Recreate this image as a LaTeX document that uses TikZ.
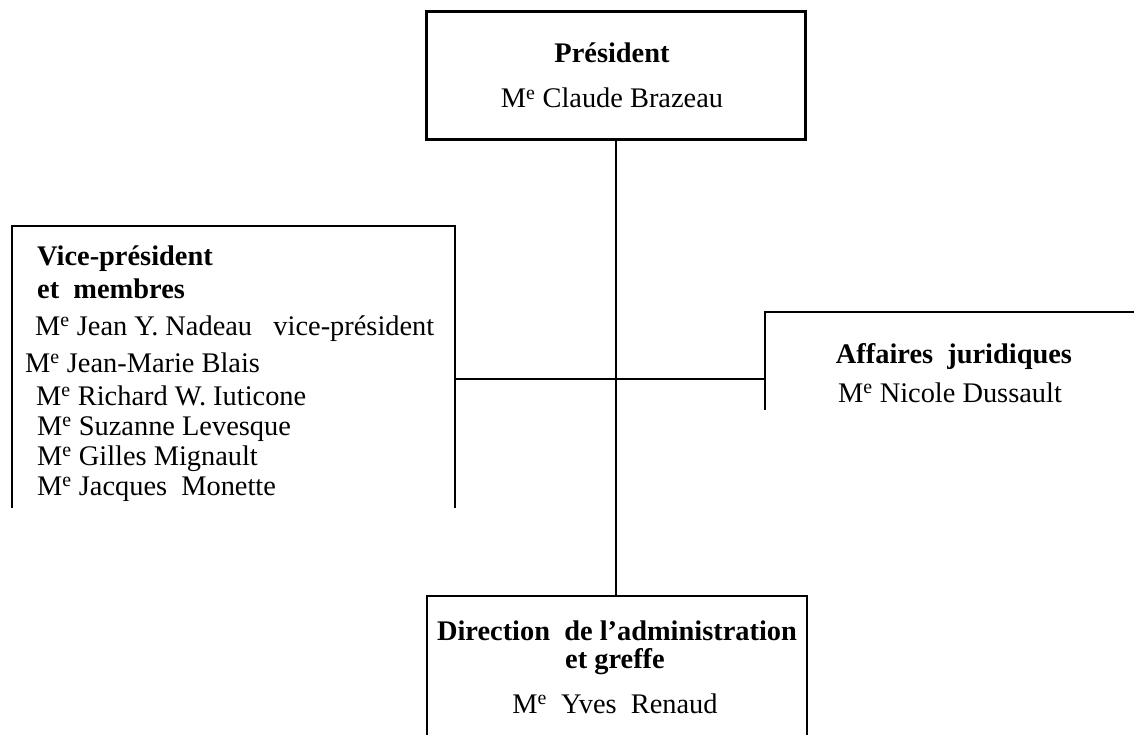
\documentclass[tikz,border=0pt]{standalone}
\usepackage{fontspec}
\setmainfont{Liberation Serif}
\newcommand{\Mtre}{M\textsuperscript{e}}
\begin{document}
\begin{tikzpicture}[x=1bp,y=-1bp,
  txt/.style={inner sep=0pt,font=\fontsize{28.5}{30}\selectfont},
  hd/.style={inner sep=0pt,font=\fontsize{28.5}{30}\selectfont\bfseries},
  frame/.style={line width=2.2bp},
  thickframe/.style={line width=3bp},
  link/.style={line width=2bp}]
\useasboundingbox (0,0) rectangle (1134,735);
% frames
\draw[thickframe] (426,12) rectangle (805,140);
\draw[frame] (12,508) -- (12,226) -- (455,226) -- (455,508);
\draw[frame] (765,410) -- (765,312) -- (1134,312);
\draw[frame] (427,735) -- (427,596) -- (807,596) -- (807,735);
% connector points
\coordinate (pres) at (616,140);
\coordinate (dir) at (616,596);
\coordinate (vice) at (455,379);
\coordinate (aff) at (765,379);
\draw[link] (pres) -- (dir);
\draw[link] (vice) -- (aff);
% President
\node[hd,anchor=base] (pt) at (612,63) {Président};
\node[txt,anchor=base] (pn) at (612,108) {\Mtre{} Claude Brazeau};
% Vice
\node[hd,anchor=base west] (v1) at (37,265) {Vice-président};
\node[hd,anchor=base west] (v2) at (37,298) {et\ \ membres};
\node[txt,anchor=base west] (v3) at (35,335) {\Mtre{} Jean Y. Nadeau\ \ \ vice-président};
\node[txt,anchor=base west] (v4) at (25,372) {\Mtre{} Jean-Marie Blais};
\node[txt,anchor=base west] (v5) at (36,405) {\Mtre{} Richard W. Iuticone};
\node[txt,anchor=base west] (v6) at (37,435) {\Mtre{} Suzanne Levesque};
\node[txt,anchor=base west] (v7) at (37,465) {\Mtre{} Gilles Mignault};
\node[txt,anchor=base west] (v8) at (37,495) {\Mtre{} Jacques\ \ Monette};
% Affaires
\node[hd,anchor=base] (a1) at (954,363) {Affaires\ \ juridiques};
\node[txt,anchor=base] (a2) at (950,402) {\Mtre{} Nicole Dussault};
% Direction
\node[hd,anchor=base] (d1) at (617,640) {Direction\ \ de l’administration};
\node[hd,anchor=base] (d2) at (615,668) {et greffe};
\node[txt,anchor=base] (d3) at (615,713) {\Mtre{}\ \ Yves\ \ Renaud};
\end{tikzpicture}
\end{document}
